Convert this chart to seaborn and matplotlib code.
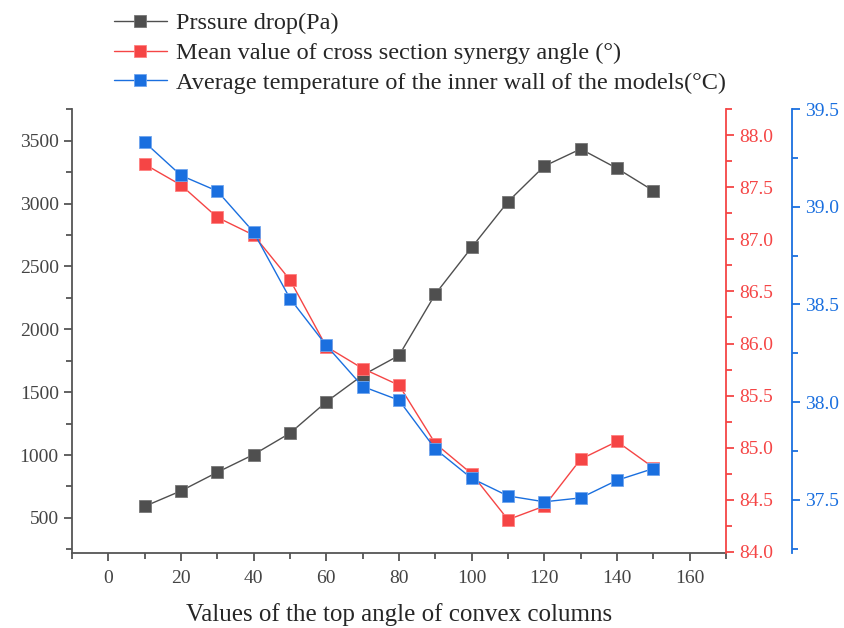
import matplotlib
matplotlib.use('Agg')
import matplotlib.pyplot as plt
from matplotlib.ticker import MultipleLocator, FormatStrFormatter
import seaborn as sns
import pandas as pd

# data
angles = [10, 20, 30, 40, 50, 60, 70, 80, 90, 100, 110, 120, 130, 140, 150]
pressure_drop = [592, 715, 863, 1004, 1174, 1423, 1635, 1792, 2280, 2651, 3015, 3298, 3434, 3280, 3102]
synergy_angle = [87.72, 87.52, 87.21, 87.04, 86.61, 85.97, 85.76, 85.60, 85.04, 84.75, 84.31, 84.44, 84.89, 85.06, 84.81]
wall_temp = [39.33, 39.16, 39.08, 38.87, 38.53, 38.29, 38.08, 38.01, 37.76, 37.61, 37.52, 37.49, 37.51, 37.60, 37.66]

labels = ['Prssure drop(Pa)',
          'Mean value of cross section synergy angle (°)',
          'Average temperature of the inner wall of the models(°C)']
c_black = '#4f4f4f'
c_red = '#f54545'
c_blue = '#1a6fdf'

df = pd.DataFrame({'angle': angles, 'dp': pressure_drop, 'syn': synergy_angle, 'temp': wall_temp})

sns.set_style('ticks')
plt.rcParams['font.family'] = ['Liberation Serif', 'DejaVu Serif']

fig = plt.figure(figsize=(8.44, 6.28), dpi=100)
ax = fig.add_axes([72/844, 1-553/628, (726-72)/844, (553-109)/628])
ax2 = ax.twinx()
ax3 = ax.twinx()

line_kw = dict(marker='s', markersize=8, markeredgewidth=0.6, linewidth=1.0)
sns.lineplot(data=df, x='angle', y='dp', ax=ax, color=c_black, markeredgecolor='#777777', label=labels[0], **line_kw)
sns.lineplot(data=df, x='angle', y='syn', ax=ax2, color=c_red, markeredgecolor='#ff8080', label=labels[1], **line_kw)
sns.lineplot(data=df, x='angle', y='temp', ax=ax3, color=c_blue, markeredgecolor='#6fa5ee', label=labels[2], **line_kw)

for a in (ax, ax2, ax3):
    lg = a.get_legend()
    if lg is not None:
        lg.remove()

# axis limits
ax.set_xlim(-10, 170)
ax.set_ylim(221, 3752)
ax2.set_ylim(83.99, 88.25)
ax3.set_ylim(37.228, 39.5)

# ticks
ax.xaxis.set_major_locator(MultipleLocator(20))
ax.xaxis.set_minor_locator(MultipleLocator(10))
ax.yaxis.set_major_locator(MultipleLocator(500))
ax.yaxis.set_minor_locator(MultipleLocator(250))
ax2.yaxis.set_major_locator(MultipleLocator(0.5))
ax2.yaxis.set_minor_locator(MultipleLocator(0.25))
ax2.yaxis.set_major_formatter(FormatStrFormatter('%.1f'))
ax3.yaxis.set_major_locator(MultipleLocator(0.5))
ax3.yaxis.set_minor_locator(MultipleLocator(0.25))
ax3.yaxis.set_major_formatter(FormatStrFormatter('%.1f'))

# spines
for a in (ax, ax2, ax3):
    a.spines['top'].set_visible(False)
ax2.spines['left'].set_visible(False)
ax3.spines['left'].set_visible(False)
ax2.spines['bottom'].set_visible(False)
ax3.spines['bottom'].set_visible(False)
ax.spines['right'].set_visible(False)
ax3.spines['right'].set_position(('axes', 720/654))
for s in ('left', 'bottom'):
    ax.spines[s].set_color('#555555')
    ax.spines[s].set_linewidth(1.3)
ax2.spines['right'].set_color(c_red)
ax2.spines['right'].set_linewidth(1.3)
ax3.spines['right'].set_color(c_blue)
ax3.spines['right'].set_linewidth(1.3)

ax.tick_params(axis='both', which='major', direction='out', length=6, width=1.3, color='#555555', labelcolor='#444444', labelsize=14)
ax.tick_params(axis='x', which='major', pad=6)
ax.tick_params(axis='both', which='minor', direction='out', length=4, width=1.3, color='#555555')
ax2.tick_params(axis='y', which='major', direction='out', length=6, width=1.3, color=c_red, labelcolor=c_red, labelsize=14)
ax2.tick_params(axis='y', which='minor', direction='out', length=4, width=1.3, color=c_red)
ax3.tick_params(axis='y', which='major', direction='out', length=6, width=1.3, color=c_blue, labelcolor=c_blue, labelsize=14)
ax3.tick_params(axis='y', which='minor', direction='out', length=4, width=1.3, color=c_blue)

ax.set_xlabel('Values of the top angle of convex columns', fontsize=18, labelpad=12)
ax.set_ylabel('')
ax2.set_ylabel('')
ax3.set_ylabel('')

# legend on top
handles = [ax.get_lines()[0], ax2.get_lines()[0], ax3.get_lines()[0]]
fig.legend(handles, labels, loc='upper left', bbox_to_anchor=(104/844, 0.996), frameon=False,
           fontsize=17.5, handlelength=2.2, handletextpad=0.35, labelspacing=0.32, borderaxespad=0)

fig.savefig('out.png', dpi=100)
plt.close()
